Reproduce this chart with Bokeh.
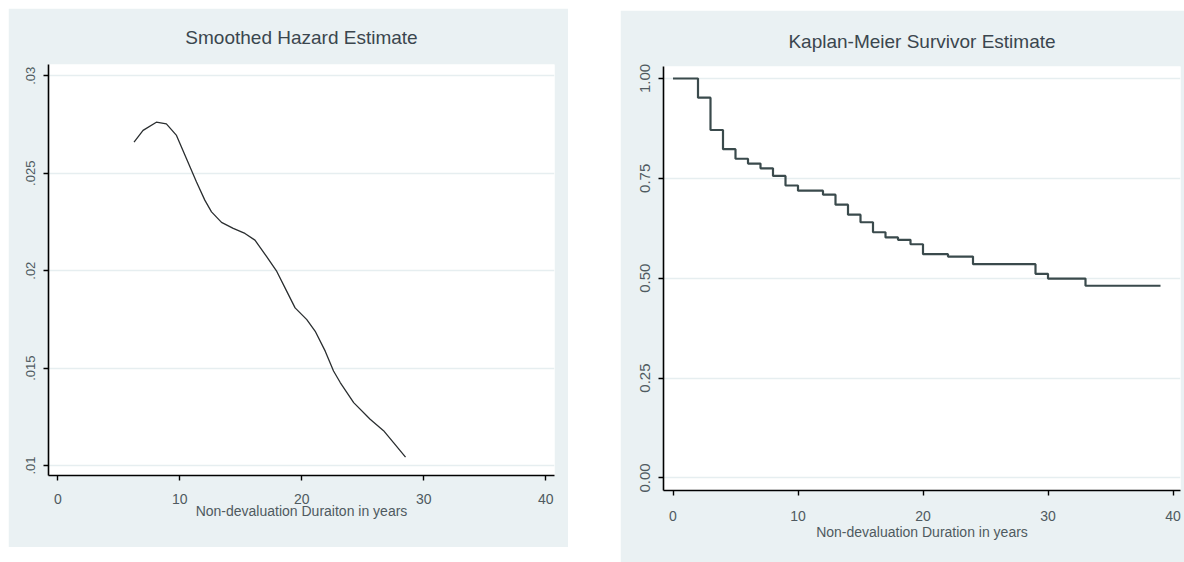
from bokeh.plotting import figure
from bokeh.layouts import row
from bokeh.models import Range1d, FixedTicker
from bokeh.embed import file_html
from bokeh.resources import INLINE

# ---- data: smoothed hazard estimate ----
haz_t = [6.25, 6.99, 8.08, 8.9, 9.73, 10.55, 11.37, 12.05, 12.6, 13.42, 14.38,
         15.34, 16.16, 17.12, 17.95, 18.77, 19.45, 20.41, 21.1, 21.92, 22.6,
         23.15, 24.25, 25.6, 26.7, 27.5, 28.5]
haz_v = [0.0266, 0.0272, 0.02762, 0.02753, 0.02694, 0.025745, 0.02455, 0.02362,
         0.02302, 0.02248, 0.02217, 0.02191, 0.02157, 0.02072, 0.01996, 0.01894,
         0.01809, 0.01749, 0.01689, 0.01587, 0.01485, 0.01426, 0.01323, 0.01238,
         0.01179, 0.01119, 0.01043]

# ---- data: Kaplan-Meier survivor estimate ----
km_t = [0, 2, 3, 4, 5, 6, 7, 8, 9, 10, 12, 13, 14, 15, 16, 17, 18, 19, 20, 22,
        24, 29, 30, 33, 39]
km_s = [1.0, 0.952, 0.871, 0.823, 0.799, 0.787, 0.775, 0.756, 0.732, 0.719,
        0.709, 0.684, 0.659, 0.640, 0.615, 0.602, 0.596, 0.585, 0.560, 0.554,
        0.535, 0.511, 0.499, 0.481, 0.481]

x_ticks = [0, 10, 20, 30, 40]
haz_yticks = [0.01, 0.015, 0.02, 0.025, 0.03]
haz_ylabels = [".01", ".015", ".02", ".025", ".03"]
km_yticks = [0.0, 0.25, 0.5, 0.75, 1.0]
km_ylabels = ["0.00", "0.25", "0.50", "0.75", "1.00"]

FONT = "Liberation Sans"
BG = "#eaf1f3"
TXT = "#4f5a60"


def style(p, ylabels_map, ylab_size):
    p.background_fill_color = "white"
    p.border_fill_color = BG
    p.outline_line_color = None
    p.xgrid.visible = False
    p.ygrid.grid_line_color = "#e6eef0"
    p.ygrid.grid_line_width = 1.5
    p.title.align = "center"
    p.title.text_font = FONT
    p.title.text_font_style = "normal"
    p.title.text_color = "#3a464e"
    p.title.text_font_size = "19px"
    p.title.standoff = 33
    for ax in (p.xaxis[0], p.yaxis[0]):
        ax.axis_line_color = "black"
        ax.axis_line_width = 1.6
        ax.major_tick_line_color = "black"
        ax.major_tick_line_width = 1.4
        ax.major_tick_out = 5
        ax.major_tick_in = 0
        ax.minor_tick_line_color = None
        ax.major_label_text_font = FONT
        ax.major_label_text_color = TXT
        ax.axis_label_text_font = FONT
        ax.axis_label_text_color = TXT
        ax.axis_label_text_font_style = "normal"
    p.xaxis.ticker = FixedTicker(ticks=x_ticks)
    p.xaxis.major_label_text_font_size = "14px"
    p.xaxis.major_label_standoff = 13
    p.xaxis.axis_label_text_font_size = "14px"
    p.xaxis.axis_label_standoff = -4
    p.yaxis.major_label_orientation = "vertical"
    p.yaxis.major_label_text_font_size = ylab_size
    p.yaxis.major_label_standoff = 8
    p.yaxis.major_label_overrides = ylabels_map


# ---- left panel ----
p1 = figure(width=560, height=539, output_backend="svg", toolbar_location=None,
            title="Smoothed Hazard Estimate",
            x_range=Range1d(-0.76, 40.71), y_range=Range1d(0.00949, 0.03058),
            min_border_left=40, min_border_right=14, min_border_top=51,
            min_border_bottom=72, margin=(8, 0, 0, 8))
p1.yaxis.ticker = FixedTicker(ticks=haz_yticks)
style(p1, {float(v): l for v, l in zip(haz_yticks, haz_ylabels)}, "13px")
p1.xaxis.axis_label = "Non-devaluation Duraiton in years"
p1.line(haz_t, haz_v, line_color="#2a2e30", line_width=1.3)

# ---- right panel ----
p2 = figure(width=564, height=552, output_backend="svg", toolbar_location=None,
            title="Kaplan-Meier Survivor Estimate",
            x_range=Range1d(-0.76, 40.6), y_range=Range1d(-0.0316, 1.03),
            min_border_left=43, min_border_right=4, min_border_top=55,
            min_border_bottom=69, margin=(10, 0, 0, 52))
p2.yaxis.ticker = FixedTicker(ticks=km_yticks)
style(p2, {float(v): l for v, l in zip(km_yticks, km_ylabels)}, "15px")
p2.xaxis.axis_label = "Non-devaluation Duration in years"
p2.xaxis.major_label_standoff = 15
p2.xaxis.axis_label_standoff = 0
p2.title.standoff = 29
p2.step(km_t, km_s, mode="after", line_color="#3a4a4c", line_width=2.2)

layout = row(p1, p2, margin=0, spacing=0)
open("out.html", "w").write(file_html(layout, INLINE))
